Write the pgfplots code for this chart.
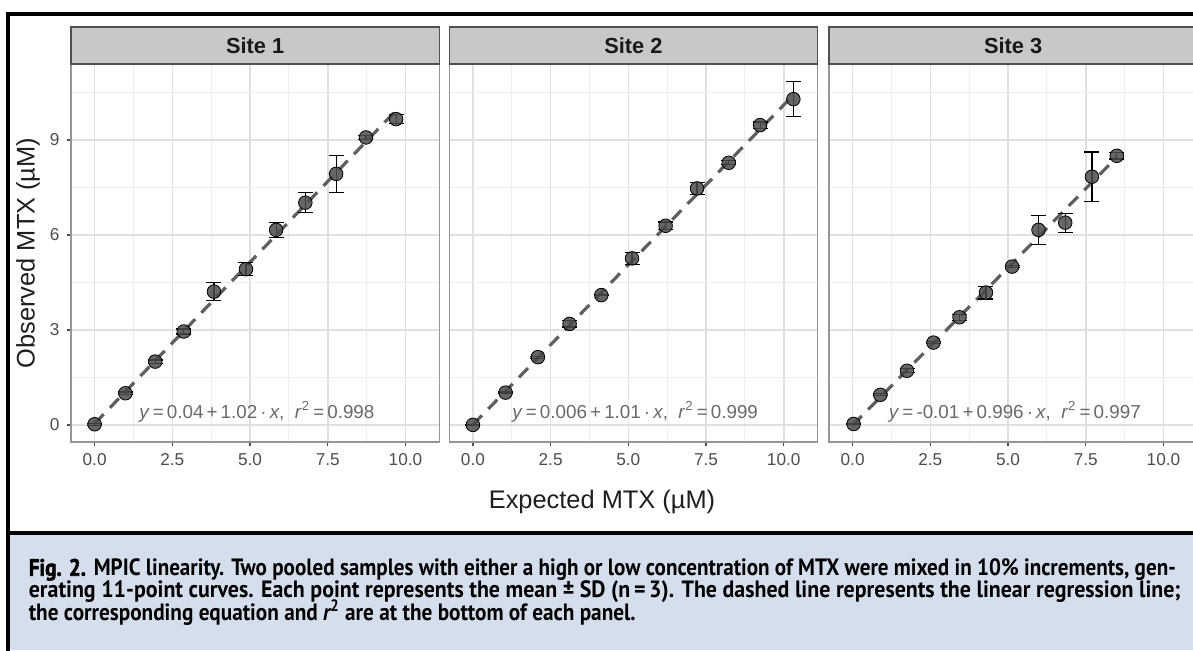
\documentclass[border=0pt]{standalone}
\usepackage{pgfplots}
\pgfplotsset{compat=1.18}
\usepackage{pgfplotstable}
\usepackage{graphicx}
\usepackage{fontspec}
\setmainfont{Liberation Sans}
\newfontfamily\capfont{PT Sans}
\newfontfamily\capfig[BoldFeatures={FakeBold=2.5}]{PT Sans}

\definecolor{capbg}{RGB}{213,222,236}
\definecolor{stripfill}{RGB}{200,200,200}
\definecolor{stripedge}{RGB}{80,80,80}
\definecolor{paneledge}{RGB}{150,150,150}
\definecolor{gridmaj}{RGB}{224,224,224}
\definecolor{gridmin}{RGB}{238,238,238}
\definecolor{ptfill}{RGB}{75,75,75}
\definecolor{linegray}{RGB}{95,95,95}
\definecolor{ticklab}{RGB}{77,77,77}
\definecolor{eqgray}{RGB}{105,105,105}

\pgfplotstableread{
x y e
0.00 0.02 0.03
0.99 1.00 0.04
1.95 2.00 0.05
2.87 2.95 0.08
3.84 4.21 0.29
4.87 4.92 0.20
5.84 6.16 0.24
6.78 7.02 0.32
7.77 7.93 0.58
8.73 9.08 0.06
9.70 9.66 0.15
}\siteone

\pgfplotstableread{
x y e
0.00 0.00 0.02
1.05 1.02 0.02
2.09 2.14 0.03
3.11 3.19 0.10
4.13 4.10 0.02
5.12 5.26 0.19
6.20 6.29 0.12
7.21 7.47 0.19
8.23 8.28 0.06
9.24 9.47 0.10
10.31 10.29 0.56
}\sitetwo

\pgfplotstableread{
x y e
0.03 0.03 0.02
0.89 0.95 0.03
1.75 1.71 0.06
2.60 2.60 0.03
3.44 3.40 0.10
4.29 4.18 0.20
5.13 5.00 0.04
5.98 6.16 0.46
6.84 6.39 0.30
7.70 7.84 0.78
8.50 8.50 0.10
}\sitethree

\pgfplotsset{
  sitepanel/.style={
    scale only axis, width=184.15pt, height=189pt, anchor=south west,
    xmin=-0.76, xmax=11.09, ymin=-0.54, ymax=11.40,
    xtick={0,2.5,5,7.5,10}, xticklabels={0.0,2.5,5.0,7.5,10.0},
    ytick={0,3,6,9},
    minor xtick={1.25,3.75,6.25,8.75}, minor ytick={1.5,4.5,7.5,10.5},
    grid=both,
    major grid style={gridmaj, line width=0.8pt},
    minor grid style={gridmin, line width=0.45pt},
    axis line style={paneledge, line width=0.7pt},
    tick align=outside, major tick length=2.2pt, minor tick length=0pt,
    tick pos=left,
    tick style={ticklab, line width=0.6pt},
    ticklabel style={font=\fontsize{8.6}{10}\selectfont, text=ticklab},
  },
  regline/.style={linegray, line width=1.6pt, dash pattern=on 6.5pt off 4.5pt},
  pts/.style={only marks, mark=*, mark size=3.4pt, mark options={fill=ptfill, draw=none, fill opacity=0.85}},
  ebars/.style={forget plot, draw=none, mark=none,
    error bars/.cd, y dir=both, y explicit,
    error bar style={draw=black, line width=0.6pt},
    error mark options={rotate=90, draw=black, mark size=3.75pt, line width=0.6pt}},
}
\tikzset{eqlab/.style={font=\fontsize{9.4}{11}\selectfont, text=eqgray}}

\begin{document}
\begin{tikzpicture}
\useasboundingbox (0,0) rectangle (596.5pt,325pt);
\clip (0,0) rectangle (596.5pt,325pt);

% caption background and frame
\fill[capbg] (4pt,0) rectangle (600pt,58.5pt);
\draw[black, line width=1.6pt] (4pt,58.5pt) -- (600pt,58.5pt);
\draw[black, line width=1.8pt] (4pt,-2pt) -- (4pt,318pt) -- (600pt,318pt);

% Panel 1
\begin{axis}[sitepanel, name=p1, at={(35.5pt,104pt)}, yticklabels={0,3,6,9}]
\addplot[regline] coordinates {(0,0.04) (9.70,9.934)};
\addplot[pts] table[x=x,y=y] {\siteone};
\addplot[ebars] table[x=x,y=y,y error=e] {\siteone};
\node[eqlab] at (axis cs:5.22,0.41) {\textit{y}\,=\,0.04\,+\,1.02\,·\,\textit{x},\ \ \textit{r}\textsuperscript{2}\,=\,0.998};
\end{axis}

% Panel 2
\begin{axis}[sitepanel, name=p2, at={(224.65pt,104pt)}, yticklabels={}, ytick style={draw=none}]
\addplot[regline] coordinates {(0,0.006) (10.31,10.419)};
\addplot[pts] table[x=x,y=y] {\sitetwo};
\addplot[ebars] table[x=x,y=y,y error=e] {\sitetwo};
\node[eqlab] at (axis cs:5.22,0.41) {\textit{y}\,=\,0.006\,+\,1.01\,·\,\textit{x},\ \ \textit{r}\textsuperscript{2}\,=\,0.999};
\end{axis}

% Panel 3
\begin{axis}[sitepanel, name=p3, at={(414.5pt,104pt)}, yticklabels={}, ytick style={draw=none}]
\addplot[regline] coordinates {(0,-0.01) (8.50,8.456)};
\addplot[pts] table[x=x,y=y] {\sitethree};
\addplot[ebars] table[x=x,y=y,y error=e] {\sitethree};
\node[eqlab] at (axis cs:5.22,0.41) {\textit{y}\,=\,-0.01\,+\,0.996\,·\,\textit{x},\ \ \textit{r}\textsuperscript{2}\,=\,0.997};
\end{axis}

% strips
\foreach \p/\t in {p1/Site 1, p2/Site 2, p3/Site 3}{
  \draw[fill=stripfill, draw=stripedge, line width=0.7pt] (\p.north west) rectangle ([yshift=18.5pt]\p.north east);
  \node[font=\bfseries\fontsize{10.9}{12}\selectfont, text=black!90] at ([yshift=9.25pt]\p.north) {\t};
}

% shared axis titles
\node[rotate=90, font=\fontsize{12.7}{14}\selectfont, text=black!88] at (14pt,198.5pt) {Observed MTX (µM)};
\node[font=\fontsize{12.7}{14}\selectfont, text=black!88] at (301pt,74pt) {Expected MTX (µM)};

% caption
\node[anchor=base west, inner sep=0pt] at (14.2pt,37.15pt) {\resizebox{573.5pt}{\height}{\fontsize{11.8}{13}\selectfont{\capfig\bfseries Fig. 2.} \capfont\bfseries MPIC linearity. Two pooled samples with either a high or low concentration of MTX were mixed in 10\% increments, gen-}};
\node[anchor=base west, inner sep=0pt] at (14.2pt,26.25pt) {\resizebox{576pt}{\height}{\fontsize{11.8}{13}\selectfont\capfont\bfseries erating 11-point curves. Each point represents the mean ± SD (n\,=\,3). The dashed line represents the linear regression line;}};
\node[anchor=base west, inner sep=0pt] at (14.2pt,15pt) {\resizebox{303.4pt}{\height}{\fontsize{11.8}{13}\selectfont\capfont\bfseries the corresponding equation and {\itshape r}\textsuperscript{2} are at the bottom of each panel.}};
\end{tikzpicture}
\end{document}
